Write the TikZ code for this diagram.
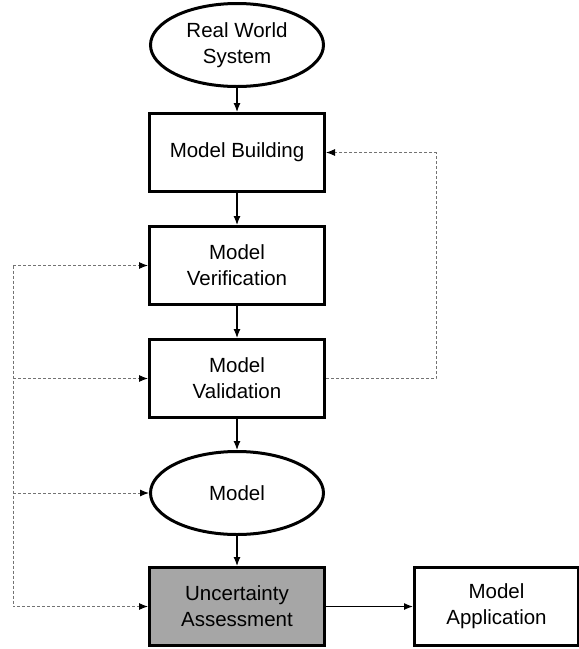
\documentclass[tikz,border=0pt]{standalone}
\usepackage{fontspec}
\setmainfont{Liberation Sans}
\usetikzlibrary{shapes.geometric,arrows.meta,positioning}

\begin{document}
\begin{tikzpicture}[
  font=\fontsize{20.5}{26}\selectfont,
  box/.style={draw, line width=3pt, align=center, inner sep=2pt, minimum width=175pt, minimum height=78pt},
  oval/.style={draw, ellipse, line width=3pt, align=center, inner sep=0pt, minimum width=173pt, minimum height=83pt},
  flow/.style={->, line width=1.2pt},
  fb/.style={-{Latex[length=9pt,width=7pt,black]}, line width=1pt, black!55, dash pattern=on 3pt off 2pt},
  >={Latex[length=9pt,width=7pt]}
]
\useasboundingbox (0,0) rectangle (579pt,-649pt);
\node[oval] (rws) at (237pt,-45pt) {Real World\\System};
\node[box, below=24pt of rws] (build) {Model Building};
\node[box, below=32pt of build] (verif) {Model\\Verification};
\node[box, below=32pt of verif] (valid) {Model\\Validation};
\node[oval, below=31pt of valid] (model) {Model};
\node[box, below=30pt of model, fill=black!35] (unc) {Uncertainty\\Assessment};
\node[box, right=87pt of unc, minimum width=164pt] (app) {Model\\Application};
\coordinate[left=135pt of verif.west] (lft);
\coordinate[right=110pt of valid.east] (rgt);
% main flow
\draw[flow] (rws) -- (build);
\draw[flow] (build) -- (verif);
\draw[flow] (verif) -- (valid);
\draw[flow] (valid) -- (model);
\draw[flow] (model) -- (unc);
\draw[flow] (unc) -- (app);
% feedback loops
\draw[fb] (lft) -- (verif.west);
\draw[fb] (lft) |- (unc.west);
\draw[fb] (lft |- valid.west) -- (valid.west);
\draw[fb] (lft |- model.west) -- (model.west);
\draw[fb] (valid.east) -- (rgt) |- (build.east);
\end{tikzpicture}
\end{document}
